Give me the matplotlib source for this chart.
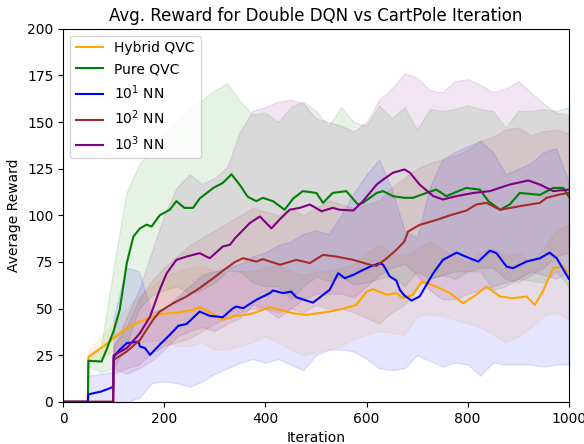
import numpy as np
import matplotlib
matplotlib.use("Agg")
from matplotlib import pyplot as plt

# mean curves (iteration, average reward)
hybrid_x = [0, 49, 50, 80, 99, 126, 152, 191, 230, 257, 270, 290, 316, 340, 370, 409, 429, 455, 481, 527,
            555, 580, 600, 613, 640, 659, 672, 692, 709, 738, 765, 791, 815, 837, 864, 890, 916, 933, 950,
            969, 989, 1000]
hybrid_y = [0, 0, 24, 29.7, 34, 39.5, 43, 47, 48, 49.3, 50.8, 48, 44, 46, 47, 50.8, 49.3, 47.5, 46.6, 48.4,
            50, 52, 59, 60.4, 57.4, 58.3, 55.6, 57.4, 64.5, 61.8, 58.3, 52.9, 57, 61.8, 56.5, 55.5, 56.5, 52, 60,
            71.7, 72.5, 69]

pure_x = [0, 49, 50, 76, 86, 100, 112, 126, 139, 152, 165, 175, 191, 211, 224, 240, 257, 270, 297, 316,
          333, 349, 365, 382, 395, 415, 438, 455, 474, 501, 514, 533, 560, 583, 593, 620, 633, 652, 675,
          692, 718, 738, 758, 797, 824, 841, 864, 883, 903, 943, 969, 989, 1000]
pure_y = [0, 0, 22, 21.6, 28, 38, 49.3, 74.4, 88.6, 93, 95, 94, 100, 103, 107.6, 104, 104, 109, 114.7, 117.4,
          122, 116.5, 110, 107.6, 109.4, 107.6, 103, 109, 113, 112, 106.7, 112, 113, 105.8, 106.7, 112, 113,
          110.3, 109.4, 109.4, 112, 113.8, 110.3, 114.7, 113.8, 107.6, 103, 105.8, 112, 111, 114.7, 114.7, 110]

nn1_x = [0, 49, 50, 75, 99, 100, 112, 126, 136, 149, 152, 162, 172, 191, 211, 228, 244, 270, 290, 316,
         336, 343, 356, 382, 409, 415, 435, 451, 461, 494, 527, 544, 557, 574, 587, 607, 626, 633, 646,
         659, 666, 675, 689, 705, 732, 751, 778, 804, 821, 844, 857, 877, 890, 916, 943, 962, 976, 1000]
nn1_y = [0, 0, 4, 5.5, 8, 24, 27.9, 31.5, 31.8, 32.3, 29.7, 28.8, 25.2, 30.6, 35.9, 40.8, 41.7, 48.4, 46.1,
         45.4, 50.2, 51.1, 50.2, 54.7, 58.3, 59.7, 58.3, 59.1, 56.1, 53.2, 60, 69, 66.3, 68.1, 69.9, 72.5,
         74.4, 73.5, 67.2, 65, 60, 57, 54.3, 56.5, 69, 76.1, 80, 77, 75.2, 81.1, 79.7, 72.5, 71.7, 75.2, 77,
         80, 77, 66]

nn2_x = [0, 99, 100, 126, 152, 178, 191, 218, 244, 270, 297, 323, 340, 356, 382, 395, 429, 461, 488, 514,
         540, 574, 607, 620, 640, 659, 675, 682, 705, 738, 765, 797, 817, 837, 864, 903, 943, 956, 982, 1000]
nn2_y = [0, 0, 22.5, 27, 33.2, 44, 48.4, 52.9, 56.5, 61, 66.3, 71.7, 75, 77, 75.2, 76.5, 73.5, 76.1, 74.4,
         78.8, 77.9, 76.1, 73.5, 72.9, 77, 81.5, 86, 91.3, 94.9, 97.5, 100, 102.5, 105.8, 106.7, 103, 104.9,
         106.7, 109.4, 111.2, 112]

nn3_x = [0, 99, 100, 126, 152, 172, 191, 205, 224, 244, 270, 290, 316, 330, 340, 369, 389, 412, 429, 448,
         468, 488, 511, 533, 547, 574, 593, 620, 633, 652, 675, 686, 705, 732, 751, 778, 811, 844, 883, 920,
         943, 969, 1000]
nn3_y = [0, 0, 25, 28.8, 36.8, 45.7, 60, 69, 76.1, 77.9, 79.7, 77, 83.3, 84.2, 87.7, 95.8, 99.4, 93, 98,
         103, 104, 105.8, 102.2, 104, 103, 102.6, 107.6, 116.5, 119.2, 122.8, 124.6, 122.8, 116.5, 110.3,
         108.5, 110.3, 112, 113, 116.5, 118.7, 116.5, 113, 113.8]

# shaded bands (lower / upper) on a shared grid
band_x = [50, 75, 99, 100, 125, 150, 175, 200, 225, 250, 275, 300, 325, 350, 375, 400, 425, 450, 475, 500,
          525, 550, 575, 600, 625, 650, 675, 700, 725, 750, 775, 800, 825, 850, 875, 900, 925, 950, 975, 1000]

hybrid_lo = [20, 24, 27, 27, 30, 32, 33, 32, 30, 30, 32, 28, 28, 30, 32, 35, 32, 28, 25, 27,
             28, 30, 34, 36, 38, 37, 36, 46, 47, 46, 44, 42, 40, 36, 32, 35, 40, 46, 48, 44]
hybrid_hi = [28, 35, 42, 42, 50, 57, 62, 67, 70, 72, 73, 70, 68, 70, 70, 72, 73, 70, 68, 70,
             70, 72, 74, 80, 84, 80, 78, 82, 86, 82, 78, 75, 80, 82, 78, 80, 75, 82, 92, 95]

pure_lo = [19, 16, 18, 18, 30, 50, 57, 60, 62, 58, 60, 64, 70, 70, 64, 62, 62, 55, 62, 67,
           65, 67, 63, 64, 66, 68, 62, 70, 66, 68, 66, 70, 70, 60, 62, 66, 65, 64, 70, 62]
pure_hi = [25, 30, 70, 72, 112, 127, 136, 144, 150, 157, 162, 167, 171, 161, 154, 155, 150, 158, 161, 156,
           148, 158, 150, 148, 159, 152, 158, 146, 157, 156, 157, 159, 157, 156, 147, 156, 156, 157, 156, 158]

nn1_lo = [0, 0, 0, 0, 0, 2, 10, 11, 10, 8, 11, 15, 18, 21, 23, 21, 23, 20, 17, 25,
          28, 28, 27, 23, 18, 17, 18, 25, 22, 19, 21, 20, 14, 21, 20, 20, 20, 19, 20, 20]
nn1_hi = [14, 15, 16, 45, 72, 70, 48, 50, 56, 62, 68, 70, 72, 74, 78, 80, 84, 86, 90, 92,
          90, 100, 112, 122, 130, 114, 92, 88, 115, 130, 134, 137, 140, 134, 122, 125, 128, 134, 136, 118]

nn2_lo = [0, 0, 0, 15, 18, 20, 26, 30, 32, 34, 38, 42, 45, 48, 50, 50, 48, 50, 48, 52,
          50, 50, 48, 45, 42, 48, 52, 62, 66, 68, 70, 70, 72, 72, 66, 64, 68, 72, 78, 80]
nn2_hi = [0, 0, 0, 30, 40, 55, 65, 72, 78, 84, 88, 92, 96, 100, 104, 102, 100, 104, 100, 104,
          108, 106, 104, 106, 108, 115, 120, 125, 128, 130, 132, 135, 140, 142, 146, 147, 143, 145, 146, 144]

nn3_lo = [0, 0, 0, 18, 15, 18, 22, 28, 35, 38, 40, 38, 42, 45, 52, 50, 45, 50, 55, 58,
          58, 58, 56, 62, 68, 72, 74, 68, 60, 55, 55, 58, 60, 62, 64, 66, 70, 68, 66, 70]
nn3_hi = [0, 0, 0, 30, 45, 60, 80, 100, 115, 122, 117, 120, 126, 145, 156, 158, 161, 162, 160, 152,
          150, 148, 145, 150, 162, 168, 176, 174, 167, 166, 172, 173, 170, 166, 168, 172, 166, 160, 155, 154]

series = [
    ("Hybrid QVC", hybrid_x, hybrid_y, hybrid_lo, hybrid_hi, "orange"),
    ("Pure QVC", pure_x, pure_y, pure_lo, pure_hi, "green"),
    ("$10^1$ NN", nn1_x, nn1_y, nn1_lo, nn1_hi, "blue"),
    ("$10^2$ NN", nn2_x, nn2_y, nn2_lo, nn2_hi, "brown"),
    ("$10^3$ NN", nn3_x, nn3_y, nn3_lo, nn3_hi, "purple"),
]

fig = plt.figure(figsize=(5.84, 4.44), dpi=100)
ax = fig.add_axes([0.108, 0.095, 0.866, 0.84])

for label, xs, ys, lo, hi, col in series:
    ax.plot(xs, ys, color=col, label=label, linewidth=1.5)
    ax.fill_between(band_x, lo, hi, color=col, alpha=0.1, linewidth=1)

ax.set_xlim(0, 1000)
ax.set_ylim(0, 200)
ax.set_xticks(np.arange(0, 1001, 200))
ax.set_yticks(np.arange(0, 201, 25))
ax.set_xlabel("Iteration")
ax.set_ylabel("Average Reward")
ax.set_title("Avg. Reward for Double DQN vs CartPole Iteration")
ax.legend(loc="upper left")

fig.savefig("out.png", dpi=100)
